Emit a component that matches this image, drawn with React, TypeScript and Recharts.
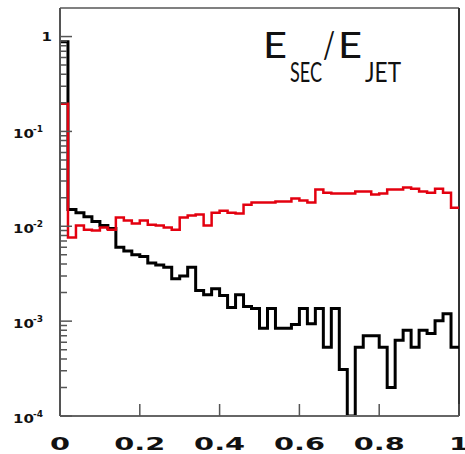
import React from 'react';
import { ComposedChart, Line, Scatter, XAxis, YAxis, ReferenceLine } from 'recharts';

// left edges of the 50 bins, plus the closing edge at 1
const BIN_EDGES = [
  0, 0.02, 0.04, 0.06, 0.08, 0.1, 0.12, 0.14, 0.16, 0.18,
  0.2, 0.22, 0.24, 0.26, 0.28, 0.3, 0.32, 0.34, 0.36, 0.38,
  0.4, 0.42, 0.44, 0.46, 0.48, 0.5, 0.52, 0.54, 0.56, 0.58,
  0.6, 0.62, 0.64, 0.66, 0.68, 0.7, 0.72, 0.74, 0.76, 0.78,
  0.8, 0.82, 0.84, 0.86, 0.88, 0.9, 0.92, 0.94, 0.96, 0.98,
  1,
];

// black histogram
const BLACK_HIST = [
  0.88, 0.015, 0.0139, 0.0126, 0.0112, 0.0102, 0.0095, 0.006, 0.0055, 0.005,
  0.0048, 0.0041, 0.0039, 0.0037, 0.0028, 0.003, 0.0037, 0.0021, 0.0019, 0.0022,
  0.00186, 0.00139, 0.0019, 0.00143, 0.00136, 0.00084, 0.00136, 0.00084, 0.00084, 0.00092,
  0.00136, 0.00094, 0.00136, 0.00053, 0.00136, 0.00031, 0.0001, 0.00053, 0.0007, 0.0007,
  0.00053, 0.0002, 0.00063, 0.0008, 0.00053, 0.0008, 0.00074, 0.00101, 0.0012, 0.00053,
];

// red histogram
const RED_HIST = [
  0.196, 0.0076, 0.0102, 0.0092, 0.009, 0.0097, 0.0092, 0.0124, 0.0115, 0.0107,
  0.0115, 0.0104, 0.0102, 0.0097, 0.0092, 0.0124, 0.013, 0.0133, 0.0102, 0.0139,
  0.0146, 0.0139, 0.0136, 0.0169, 0.0178, 0.0178, 0.0178, 0.0182, 0.0182, 0.0196,
  0.0187, 0.0178, 0.0244, 0.0226, 0.0221, 0.0221, 0.0221, 0.0232, 0.0232, 0.0216,
  0.0221, 0.0244, 0.0244, 0.0256, 0.0249, 0.0232, 0.0226, 0.0249, 0.0226, 0.0157,
];

const X_TICKS = [0, 0.2, 0.4, 0.6, 0.8, 1];
const Y_TICKS = [1e-4, 1e-3, 1e-2, 1e-1, 1];
const MANTISSAS = [2, 3, 4, 5, 6, 7, 8, 9];
const Y_MINOR = Y_TICKS.slice(0, -1).flatMap((d) => MANTISSAS.map((m) => m * d));

const W = 465;
const H = 454;
const AXIS_GREY = '#555';

const data = BIN_EDGES.map((x, i) => ({
  x,
  black: BLACK_HIST[Math.min(i, BLACK_HIST.length - 1)],
  red: RED_HIST[Math.min(i, RED_HIST.length - 1)],
}));

// minor log ticks sit on the y axis (x = 0)
const minorTicks = Y_MINOR.map((v) => ({ x: 0, y: v }));

const XTick = (props: any) => {
  const { x, y, payload } = props;
  return (
    <g>
      <line x1={x} y1={y} x2={x} y2={y - 12} stroke={AXIS_GREY} strokeWidth={1.5} />
      <text
        transform={`translate(${x},${y + 34}) scale(1.6,1)`}
        textAnchor="middle"
        fontFamily="DejaVu Sans"
        fontWeight="bold"
        fontSize={18}
        fill="#111"
      >
        {String(payload.value)}
      </text>
    </g>
  );
};

const YTick = (props: any) => {
  const { x, y, payload } = props;
  const exp = Math.round(Math.log10(payload.value));
  return (
    <g fontFamily="DejaVu Sans" fontWeight="bold" fill="#111">
      <line x1={x} y1={y} x2={x + 12} y2={y} stroke={AXIS_GREY} strokeWidth={1.5} />
      {exp === 0 ? (
        <text transform={`translate(${x - 8},${y + 4.5}) scale(1.25,1)`} textAnchor="end" fontSize={12}>
          1
        </text>
      ) : (
        <>
          <text transform={`translate(${x - 47},${y + 6.5}) scale(1.25,1)`} fontSize={12}>
            10
          </text>
          <text x={x - 27} y={y + 1} fontSize={9}>
            {`-${-exp}`}
          </text>
        </>
      )}
    </g>
  );
};

// short inward tick for each minor log position
const MinorTick = (props: any) => {
  const { cx, cy } = props;
  return <line x1={cx} y1={cy} x2={cx + 7} y2={cy} stroke={AXIS_GREY} strokeWidth={1.5} />;
};

export default function App() {
  return (
    <div style={{ position: 'absolute', left: 0, top: 0, width: W, height: H, background: '#fff' }}>
      <ComposedChart width={W} height={H} data={data} margin={{ top: 8, right: 6, bottom: 0, left: 0 }}>
        <XAxis
          type="number"
          dataKey="x"
          domain={[0, 1]}
          ticks={X_TICKS}
          interval={0}
          height={38}
          tickLine={false}
          tickSize={0}
          tickMargin={0}
          axisLine={{ stroke: '#666', strokeWidth: 2 }}
          tick={(p: any) => <XTick {...p} />}
        />
        <YAxis
          scale="log"
          domain={[1e-4, 2]}
          allowDataOverflow
          ticks={Y_TICKS}
          interval={0}
          width={60}
          tickLine={false}
          tickSize={0}
          tickMargin={0}
          axisLine={{ stroke: AXIS_GREY, strokeWidth: 2 }}
          tick={(p: any) => <YTick {...p} />}
        />
        <ReferenceLine y={2} stroke="#808080" strokeWidth={2} />
        <ReferenceLine x={1} stroke="#333" strokeWidth={2} />
        <Scatter data={minorTicks} dataKey="y" shape={<MinorTick />} isAnimationActive={false} />
        <Line
          type="stepAfter"
          dataKey="black"
          stroke="#000"
          strokeWidth={3}
          dot={false}
          isAnimationActive={false}
        />
        <Line
          type="stepAfter"
          dataKey="red"
          stroke="#e3000f"
          strokeWidth={2.5}
          dot={false}
          isAnimationActive={false}
        />
      </ComposedChart>
      <svg
        width={W}
        height={H}
        style={{ position: 'absolute', left: 0, top: 0, pointerEvents: 'none' }}
      >
        <g fontFamily="Lato" fill="#111">
          <text x={263} y={58} fontSize={36} textLength={24} lengthAdjust="spacingAndGlyphs">E</text>
          <text x={290} y={82} fontSize={27} textLength={32} lengthAdjust="spacingAndGlyphs">SEC</text>
          <text x={323} y={58} fontSize={36} textLength={12} lengthAdjust="spacingAndGlyphs">/</text>
          <text x={338} y={58} fontSize={36} textLength={24} lengthAdjust="spacingAndGlyphs">E</text>
          <text x={365} y={82} fontSize={27} textLength={36} lengthAdjust="spacingAndGlyphs">JET</text>
        </g>
      </svg>
    </div>
  );
}
